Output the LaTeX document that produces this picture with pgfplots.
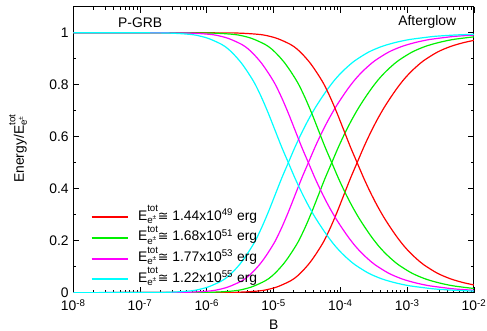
\documentclass[border=0pt]{standalone}
\usepackage{fontspec}
\setmainfont{Liberation Sans}
\newfontfamily\djv{DejaVu Sans}
\usepackage{pgfplots}
\usepackage{pgfplotstable}
\pgfplotsset{compat=1.18}
\definecolor{cR}{RGB}{255,0,0}
\definecolor{cG}{RGB}{0,240,0}
\definecolor{cM}{RGB}{255,0,255}
\definecolor{cC}{RGB}{0,255,255}
\newcommand{\ff}{\fontsize{10.4pt}{12pt}\selectfont}
\newcommand{\Etot}{E\rlap{\raisebox{0.6em}{\fontsize{7.3pt}{8pt}\selectfont tot}}\raisebox{-0.22em}{\fontsize{7.3pt}{8pt}\selectfont e\raisebox{0.4em}{\fontsize{5pt}{6pt}\selectfont ±}}\hspace{1.2pt}}
\newcommand{\approxeq}{{\djv\fontsize{9.5pt}{12pt}\selectfont ≅}}

% columns: L = log10(B), ag = afterglow fraction, pg = P-GRB fraction
\pgfplotstableread{
L ag pg
-8 0 1
-5.75 .0008 .9992
-5.55 .0015 .9985
-5.35 .004 .996
-5.15 .009 .991
-4.95 .022 .978
-4.75 .045 .955
-4.65 .063 .937
-4.55 .088 .912
-4.45 .118 .882
-4.35 .155 .845
-4.25 .197 .803
-4.15 .25 .75
-4.05 .31 .69
-3.95 .375 .625
-3.85 .44 .56
-3.75 .5 .5
-3.65 .56 .44
-3.55 .615 .385
-3.45 .665 .335
-3.35 .71 .29
-3.25 .75 .25
-3.15 .787 .213
-3.05 .82 .18
-2.95 .848 .152
-2.85 .872 .128
-2.75 .893 .107
-2.55 .925 .075
-2.35 .947 .053
-2.15 .962 .038
-1.95 .973 .027
}\tabR

\pgfplotstableread{
L ag pg
-8 0 1
-6.13 .0008 .9992
-5.93 .0015 .9985
-5.73 .004 .996
-5.53 .009 .991
-5.33 .022 .978
-5.13 .045 .955
-5.03 .063 .937
-4.93 .088 .912
-4.83 .118 .882
-4.73 .155 .845
-4.63 .197 .803
-4.53 .25 .75
-4.43 .31 .69
-4.33 .375 .625
-4.23 .44 .56
-4.13 .5 .5
-4.03 .56 .44
-3.93 .615 .385
-3.83 .665 .335
-3.73 .71 .29
-3.63 .75 .25
-3.53 .787 .213
-3.43 .82 .18
-3.33 .848 .152
-3.23 .872 .128
-3.13 .893 .107
-2.93 .925 .075
-2.73 .947 .053
-2.53 .962 .038
-2.33 .973 .027
-2.13 .98 .02
-1.93 .986 .014
}\tabG

\pgfplotstableread{
L ag pg
-8 0 1
-6.48 .0008 .9992
-6.28 .0015 .9985
-6.08 .004 .996
-5.88 .009 .991
-5.68 .022 .978
-5.48 .045 .955
-5.38 .063 .937
-5.28 .088 .912
-5.18 .118 .882
-5.08 .155 .845
-4.98 .197 .803
-4.88 .25 .75
-4.78 .31 .69
-4.68 .375 .625
-4.58 .44 .56
-4.48 .5 .5
-4.38 .56 .44
-4.28 .615 .385
-4.18 .665 .335
-4.08 .71 .29
-3.98 .75 .25
-3.88 .787 .213
-3.78 .82 .18
-3.68 .848 .152
-3.58 .872 .128
-3.48 .893 .107
-3.28 .925 .075
-3.08 .947 .053
-2.88 .962 .038
-2.68 .973 .027
-2.48 .98 .02
-2.28 .986 .014
-1.98 .991 .009
-1.68 .994 .006
}\tabM

\pgfplotstableread{
L ag pg
-8 0 1
-6.78 .0008 .9992
-6.58 .0015 .9985
-6.38 .004 .996
-6.18 .009 .991
-5.98 .022 .978
-5.78 .045 .955
-5.68 .063 .937
-5.58 .088 .912
-5.48 .118 .882
-5.38 .155 .845
-5.28 .197 .803
-5.18 .25 .75
-5.08 .31 .69
-4.98 .375 .625
-4.88 .44 .56
-4.78 .5 .5
-4.68 .56 .44
-4.58 .615 .385
-4.48 .665 .335
-4.38 .71 .29
-4.28 .75 .25
-4.18 .787 .213
-4.08 .82 .18
-3.98 .848 .152
-3.88 .872 .128
-3.78 .893 .107
-3.58 .925 .075
-3.38 .947 .053
-3.18 .962 .038
-2.98 .973 .027
-2.78 .98 .02
-2.58 .986 .014
-2.28 .991 .009
-1.98 .994 .006
-1.58 .997 .003
}\tabC

\begin{document}
\begin{tikzpicture}
\useasboundingbox (-55pt,-28.7pt) rectangle (310.25pt,219.5pt);
\begin{axis}[
  at={(0pt,0pt)}, anchor=south west,
  scale only axis, width=300.5pt, height=214.5pt,
  xmin=-8, xmax=-2, ymin=0, ymax=1.1,
  xtick={-8,-7,-6,-5,-4,-3,-2},
  xticklabels={10\textsuperscript{-8},10\textsuperscript{-7},10\textsuperscript{-6},10\textsuperscript{-5},10\textsuperscript{-4},10\textsuperscript{-3},10\textsuperscript{-2}},
  minor xtick={-7.699,-7.523,-7.398,-7.301,-7.222,-7.155,-7.097,-7.046,
               -6.699,-6.523,-6.398,-6.301,-6.222,-6.155,-6.097,-6.046,
               -5.699,-5.523,-5.398,-5.301,-5.222,-5.155,-5.097,-5.046,
               -4.699,-4.523,-4.398,-4.301,-4.222,-4.155,-4.097,-4.046,
               -3.699,-3.523,-3.398,-3.301,-3.222,-3.155,-3.097,-3.046,
               -2.699,-2.523,-2.398,-2.301,-2.222,-2.155,-2.097,-2.046},
  ytick={0,0.2,0.4,0.6,0.8,1},
  minor ytick={0.1,0.3,0.5,0.7,0.9},
  tick align=inside,
  major tick length=4.5pt, minor tick length=2.25pt,
  tick style={black, line width=0.6pt},
  axis line style={line width=0.75pt},
  /pgf/number format/assume math mode=true,
  tick label style={font=\ff},
  xticklabel style={yshift=-1.5pt},
  xlabel={B}, ylabel={Energy/\Etot},
  label style={font=\ff},
  ylabel style={at={(axis description cs:-0.138,0.5)}, anchor=center},
  legend cell align=left,
  legend image code/.code={\draw[#1, line width=1.5pt] (0pt,0pt) -- (27.5pt,0pt);},
  legend style={at={(axis cs:-7.74,0.327)}, anchor=north west, draw=none, fill=none,
    inner sep=0pt, outer sep=0pt, row sep=1pt, font=\ff,
    nodes={inner sep=0pt, text height=9.5pt, text depth=5pt},
    /tikz/every odd column/.append style={column sep=6.5pt}},
  every axis plot/.append style={line width=0.9pt, smooth, no markers},
  clip=true,
]
\addplot[cR] table[x=L,y=ag] {\tabR};
\addlegendentry{\Etot\approxeq\ 1.44x10\textsuperscript{49} erg}
\addplot[cG] table[x=L,y=ag] {\tabG};
\addlegendentry{\Etot\approxeq\ 1.68x10\textsuperscript{51} erg}
\addplot[cM] table[x=L,y=ag] {\tabM};
\addlegendentry{\Etot\approxeq\ 1.77x10\textsuperscript{53} erg}
\addplot[cC] table[x=L,y=ag] {\tabC};
\addlegendentry{\Etot\approxeq\ 1.22x10\textsuperscript{55} erg}
\addplot[cR, forget plot] table[x=L,y=pg] {\tabR};
\addplot[cG, forget plot] table[x=L,y=pg] {\tabG};
\addplot[cM, forget plot] table[x=L,y=pg] {\tabM};
\addplot[cC, forget plot] table[x=L,y=pg] {\tabC};
\node[font=\ff] at (axis cs:-7.0,1.04) {P-GRB};
\node[font=\ff] at (axis cs:-2.70,1.04) {Afterglow};
\end{axis}
\end{tikzpicture}
\end{document}
